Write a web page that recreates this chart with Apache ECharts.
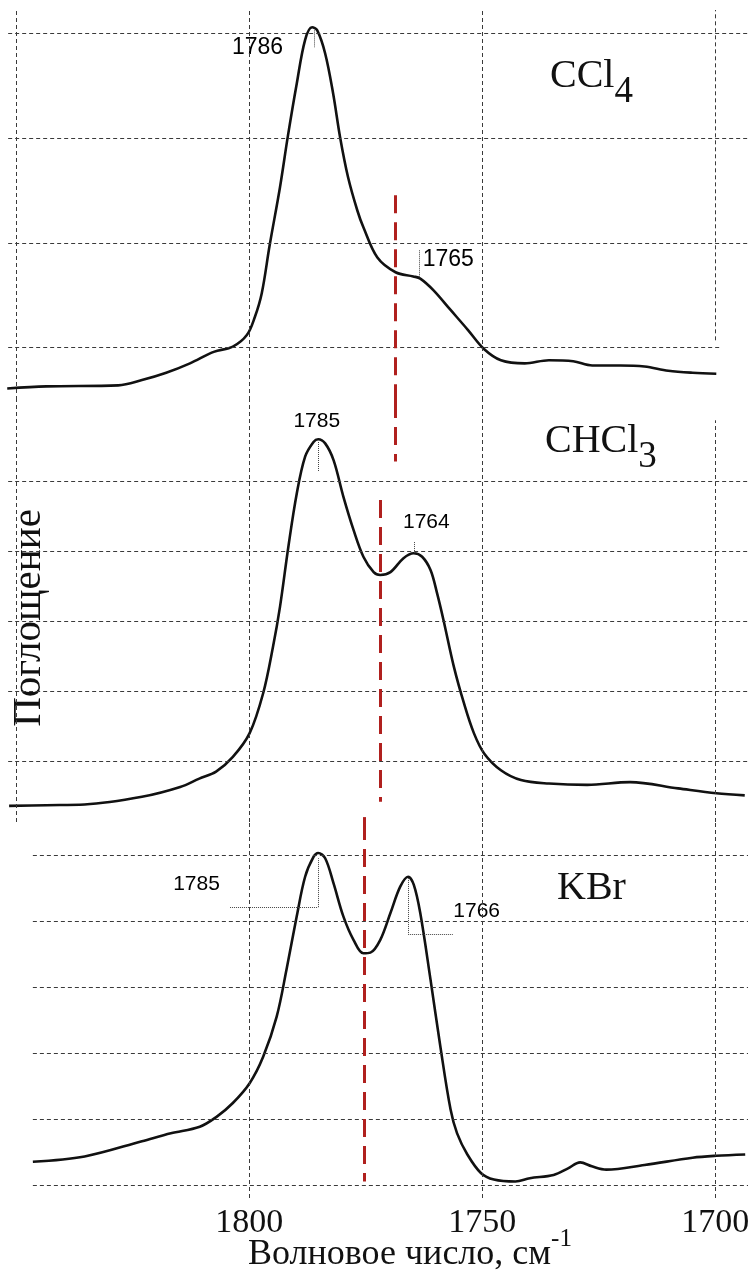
<!DOCTYPE html>
<html>
<head>
<meta charset="utf-8">
<script src="https://cdn.jsdelivr.net/npm/echarts@6/dist/echarts.min.js"></script>
<style>
  html, body { margin: 0; padding: 0; background: #fff; }
  #chart { width: 748px; height: 1278px; }
</style>
</head>
<body>
<div id="chart"></div>
<script>
// wavenumbers (cm-1) and absorbance (arb. units)
const ccl4Wn = [1851.9, 1843.5, 1828.1, 1823.0, 1817.8, 1812.7, 1807.6, 1803.5, 1800.5, 1798.8, 1797.3, 1795.6, 1793.4, 1791.7, 1789.8, 1788.0, 1786.5, 1785.4, 1783.7, 1782.0, 1780.5, 1778.8, 1776.8, 1775.5, 1772.5, 1768.6, 1764.8, 1763.3, 1760.5, 1756.8, 1753.1, 1749.7, 1746.0, 1740.9, 1735.7, 1730.5, 1726.4, 1720.4, 1715.2, 1710.1, 1704.9, 1699.8];
const ccl4Abs = [0.61, 0.63, 0.64, 0.69, 0.76, 0.85, 0.96, 1.01, 1.12, 1.29, 1.52, 1.98, 2.53, 3.02, 3.52, 3.94, 4.06, 4.03, 3.81, 3.43, 3.01, 2.63, 2.31, 2.15, 1.86, 1.72, 1.68, 1.66, 1.55, 1.36, 1.17, 0.99, 0.88, 0.85, 0.88, 0.87, 0.83, 0.83, 0.82, 0.78, 0.76, 0.75];

const chcl3Wn = [1851.5, 1843.5, 1835.3, 1823.0, 1814.8, 1810.7, 1807.1, 1803.5, 1799.9, 1797.0, 1794.9, 1793.4, 1791.6, 1789.8, 1788.0, 1786.2, 1785.2, 1783.7, 1781.9, 1779.8, 1777.6, 1775.5, 1773.3, 1771.9, 1769.7, 1766.9, 1764.7, 1762.9, 1761.1, 1759.7, 1758.3, 1756.1, 1753.9, 1751.8, 1749.6, 1746.0, 1741.7, 1735.7, 1727.5, 1718.3, 1708.0, 1699.8, 1693.7];
const chcl3Abs = [0.36, 0.37, 0.38, 0.49, 0.63, 0.75, 0.85, 1.06, 1.40, 1.97, 2.63, 3.20, 4.06, 4.82, 5.35, 5.56, 5.60, 5.54, 5.30, 4.78, 4.30, 3.92, 3.70, 3.66, 3.70, 3.90, 3.97, 3.92, 3.73, 3.40, 3.01, 2.35, 1.82, 1.40, 1.11, 0.87, 0.73, 0.68, 0.66, 0.70, 0.61, 0.54, 0.51];

const kbrWn = [1846.4, 1835.3, 1823.0, 1816.8, 1810.6, 1807.0, 1803.5, 1799.9, 1797.0, 1794.1, 1792.0, 1789.8, 1788.0, 1786.2, 1785.2, 1783.7, 1781.9, 1779.8, 1777.6, 1775.5, 1774.0, 1771.9, 1769.7, 1767.6, 1765.9, 1764.7, 1763.3, 1761.1, 1759.0, 1756.8, 1755.4, 1753.2, 1750.3, 1747.5, 1742.9, 1739.8, 1734.7, 1731.6, 1729.0, 1726.5, 1723.4, 1715.2, 1704.9, 1699.8, 1693.6];
const kbrAbs = [1.35, 1.43, 1.66, 1.78, 1.88, 2.03, 2.24, 2.54, 2.94, 3.55, 4.26, 5.07, 5.67, 5.97, 6.03, 5.95, 5.57, 5.07, 4.71, 4.51, 4.52, 4.71, 5.12, 5.52, 5.67, 5.55, 5.12, 4.11, 3.10, 2.14, 1.78, 1.46, 1.18, 1.08, 1.05, 1.10, 1.15, 1.25, 1.34, 1.28, 1.23, 1.30, 1.41, 1.44, 1.46];

// axis ticks
const gridWn = [1850, 1800, 1750, 1700];
const tickLabels = [1800, 1750, 1700];

// peak labels: text, label spot, leader points
const ccl4Peaks = [
  { text: '1786', at: [1798.2, 3.87], lead: [[[1786.0, 4.03], [1786.0, 3.87]]] },
  { text: '1765', at: [1757.3, 1.84], lead: [[[1763.6, 1.93], [1763.6, 1.67]]] }
];
const chcl3Peaks = [
  { text: '1785', at: [1785.5, 5.86], lead: [[[1785.2, 5.56], [1785.2, 5.13]]] },
  { text: '1764', at: [1762.0, 4.41], lead: [[[1764.6, 4.13], [1764.6, 3.97]]] }
];
const kbrPeaks = [
  { text: '1785', at: [1811.3, 5.56], lead: [[[1804.1, 5.21], [1785.2, 5.21]], [[1785.2, 5.21], [1785.2, 5.95]]] },
  { text: '1766', at: [1751.2, 5.15], lead: [[[1765.9, 5.65], [1765.9, 4.80]], [[1765.9, 4.80], [1756.3, 4.80]]] }
];

const X_MIN = 1693.0, X_MAX = 1853.45;
const SERIF = "'Liberation Serif', 'Times New Roman', serif";
const SANS = "'Liberation Sans', Arial, sans-serif";
const GRID_STYLE = { color: '#3a3a3a', width: 1, type: [4, 3] };
const RED_STYLE = { color: '#b0201e', width: 3, type: [18, 9] };

const panels = [
  {
    top: 10, height: 390, yMin: 0.5, yMax: 4.225, wn: ccl4Wn, abs: ccl4Abs, peaks: ccl4Peaks, peakSize: 23,
    levels: [[1, 1851.7, 1699.1], [2, 1851.7, X_MIN], [3, 1851.7, X_MIN], [4, 1851.7, X_MIN]],
    verticals: [[gridWn[0], 0.5, 4.225], [gridWn[1], 0.5, 4.225], [gridWn[2], 0.5, 4.225], [gridWn[3], 1.07, 4.225]],
    red: [[1768.6, 2.455, 0.5]]
  },
  {
    top: 400, height: 422, yMin: 0.13, yMax: 6.16, wn: chcl3Wn, abs: chcl3Abs, peaks: chcl3Peaks, peakSize: 21,
    levels: [[1, 1851.7, X_MIN], [2, 1851.7, X_MIN], [3, 1851.7, X_MIN], [4, 1851.7, X_MIN], [5, 1851.7, X_MIN]],
    verticals: [[gridWn[0], 0.13, 6.16], [gridWn[1], 0.13, 6.16], [gridWn[2], 0.13, 6.16], [gridWn[3], 0.13, 5.87]],
    red: [[1768.6, 6.16, 5.28], [1771.9, 4.73, 0.42], [1775.4, 0.2, 0.13]]
  },
  {
    top: 822, height: 376, yMin: 0.8, yMax: 6.5, wn: kbrWn, abs: kbrAbs, peaks: kbrPeaks, peakSize: 21,
    levels: [[1, 1846.4, X_MIN], [2, 1846.4, X_MIN], [3, 1846.4, X_MIN], [4, 1846.4, X_MIN], [5, 1846.4, X_MIN], [6, 1846.4, X_MIN]],
    verticals: [[gridWn[1], 0.8, 6.5], [gridWn[2], 0.8, 6.5], [gridWn[3], 0.8, 6.5]],
    red: [[1775.4, 6.5, 1.05]]
  }
];

const grid = [], xAxis = [], yAxis = [], series = [];

panels.forEach((p, i) => {
  grid.push({ left: 0, right: 0, top: p.top, height: p.height, outerBoundsMode: 'none' });

  xAxis.push({
    gridIndex: i, type: 'value', inverse: true, min: X_MIN, max: X_MAX,
    axisLine: { show: false }, axisTick: { show: false }, splitLine: { show: false },
    axisLabel: { show: false }
  });
  yAxis.push({
    gridIndex: i, type: 'value', min: p.yMin, max: p.yMax,
    axisLine: { show: false }, axisTick: { show: false }, splitLine: { show: false },
    axisLabel: { show: false }
  });

  // dashed grid
  const gridLines = [];
  p.levels.forEach(l => gridLines.push([{ coord: [l[1], l[0]] }, { coord: [l[2], l[0]] }]));
  p.verticals.forEach(v => gridLines.push([{ coord: [v[0], v[1]] }, { coord: [v[0], v[2]] }]));
  series.push({
    type: 'line', xAxisIndex: i, yAxisIndex: i, data: [], z: 1, silent: true,
    markLine: { silent: true, symbol: ['none', 'none'], label: { show: false }, lineStyle: GRID_STYLE, data: gridLines }
  });

  // spectrum
  series.push({
    type: 'line', xAxisIndex: i, yAxisIndex: i, z: 3,
    data: p.wn.map((w, k) => [w, p.abs[k]]),
    smooth: 0.35, showSymbol: false,
    lineStyle: { color: '#111', width: 2.6 }
  });

  // peak leaders and labels
  const leads = [];
  p.peaks.forEach(pk => pk.lead.forEach(seg => leads.push([{ coord: seg[0] }, { coord: seg[1] }])));
  series.push({
    type: 'scatter', xAxisIndex: i, yAxisIndex: i, z: 2, symbolSize: 0,
    itemStyle: { opacity: 1 },
    data: p.peaks.map(pk => [pk.at[0], pk.at[1], pk.text]),
    label: {
      show: true, position: 'inside', formatter: d => d.value[2], opacity: 1,
      fontFamily: SANS, fontSize: p.peakSize, color: '#000',
      textBorderWidth: 0, textBorderColor: 'transparent'
    },
    markLine: {
      silent: true, symbol: ['none', 'none'], label: { show: false },
      lineStyle: { color: '#444', width: 1, type: [1, 1] }, data: leads
    }
  });

  // red dashed marker
  series.push({
    type: 'line', xAxisIndex: i, yAxisIndex: i, data: [], z: 4,
    markLine: {
      silent: true, symbol: ['none', 'none'], label: { show: false }, lineStyle: RED_STYLE,
      data: p.red.map(r => [{ coord: [r[0], r[1]] }, { coord: [r[0], r[2]] }])
    }
  });
});

// bottom axis labels and name
Object.assign(xAxis[2], {
  axisLabel: {
    show: true, customValues: tickLabels, margin: 8, formatter: v => String(v),
    fontFamily: SERIF, fontSize: 34, color: '#111'
  },
  name: '{m|Волновое число, см}{s|-1}',
  nameLocation: 'middle', nameGap: 29, nameMoveOverlap: false,
  nameTextStyle: {
    padding: [0, 0, 0, 72],
    rich: {
      m: { fontFamily: SERIF, fontSize: 36, lineHeight: 36, color: '#111', padding: [10, 0, 0, 0], verticalAlign: 'top' },
      s: { fontFamily: SERIF, fontSize: 25, lineHeight: 25, color: '#111', verticalAlign: 'top' }
    }
  }
});

// vertical axis title
Object.assign(yAxis[1], {
  name: 'Поглощение', nameLocation: 'middle', nameGap: -50, nameMoveOverlap: false,
  nameTextStyle: { fontFamily: SERIF, fontSize: 41, color: '#111', padding: [0, 14, 0, 0] }
});

const subRich = {
  m: { fontFamily: SERIF, fontSize: 40, fontWeight: 'normal', lineHeight: 40, color: '#111', verticalAlign: 'top' },
  s: { fontFamily: SERIF, fontSize: 37, fontWeight: 'normal', lineHeight: 37, color: '#111', padding: [18, 0, 0, 0], verticalAlign: 'top' }
};

const option = {
  animation: false,
  backgroundColor: '#fff',
  title: [
    { text: '{m|CCl}{s|4}', left: 550, top: 56, padding: 0, textStyle: { fontWeight: 'normal', rich: subRich } },
    { text: '{m|CHCl}{s|3}', left: 545, top: 421, padding: 0, textStyle: { fontWeight: 'normal', rich: subRich } },
    { text: '{m|KBr}', left: 557, top: 868, padding: 0, textStyle: { fontWeight: 'normal', rich: subRich } }
  ],
  grid: grid,
  xAxis: xAxis,
  yAxis: yAxis,
  series: series
};

const myChart = echarts.init(document.getElementById('chart'));
myChart.setOption(option);
</script>
</body>
</html>
